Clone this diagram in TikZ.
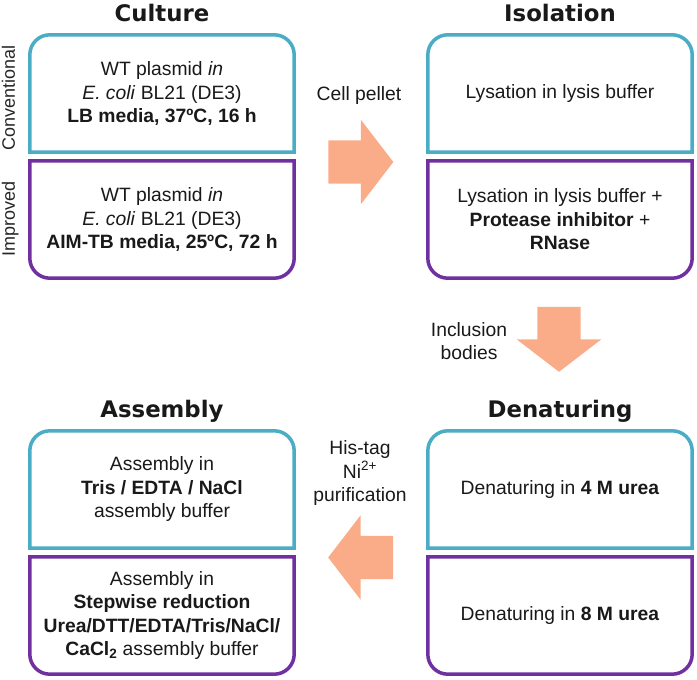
\documentclass[tikz,border=0pt]{standalone}
\usepackage{fontspec}
\setmainfont{Liberation Sans}
\newfontfamily\titlefont{DejaVu Sans}
\usepackage{tikz}
\usetikzlibrary{shapes.arrows}
\definecolor{convcyan}{RGB}{75,172,198}
\definecolor{imprpurple}{RGB}{112,48,160}
\definecolor{peach}{RGB}{250,172,136}
\tikzstyle{box} = [rectangle, minimum width=264pt, minimum height=117pt, text centered, align=center, text=black!90, font=\fontsize{19.3}{23.5}\selectfont]
\tikzstyle{convline} = [draw=convcyan, line width=3.5pt]
\tikzstyle{imprline} = [draw=imprpurple, line width=3.5pt]
\tikzstyle{title} = [text=black!90, font=\titlefont\fontsize{22.8}{27}\selectfont\bfseries, text height=17pt, text depth=5pt]
\tikzstyle{side} = [rotate=90, text=black!85, font=\fontsize{18}{22}\selectfont, text height=13pt, text depth=4pt]
\tikzstyle{note} = [align=center, text=black!90, font=\fontsize{19.3}{23.5}\selectfont]
\tikzstyle{fatarrow} = [single arrow, fill=peach, inner xsep=0pt, inner ysep=21.5pt, minimum width=84pt, minimum height=65pt, single arrow head extend=20.5pt, single arrow tip angle=105]
\tikzstyle{fatarrowdown} = [fatarrow, shape border rotate=270, inner xsep=21.5pt, inner ysep=0pt]

\begin{document}
\begin{tikzpicture}[node distance=126pt, x=1pt, y=1pt]
\useasboundingbox (0,0) rectangle (697,-680);
\node (cultconv) [box] at (162,-93.5) {WT plasmid \textit{in}\\\textit{E. coli} BL21 (DE3)\\\textbf{LB media, 37ºC, 16 h}};
\node (cultimpr) [box, below of=cultconv] {WT plasmid \textit{in}\\\textit{E. coli} BL21 (DE3)\\\textbf{AIM-TB media, 25ºC, 72 h}};
\node (isoconv) [box, right of=cultconv, xshift=272pt] {Lysation in lysis buffer};
\node (isoimpr) [box, below of=isoconv] {Lysation in lysis buffer +\\\textbf{Protease inhibitor} +\\\textbf{RNase}};
\node (denconv) [box, below of=isoimpr, yshift=-144pt] {Denaturing in \textbf{4 M urea}};
\node (denimpr) [box, below of=denconv] {Denaturing in \textbf{8 M urea}};
\node (asmconv) [box, left of=denconv, xshift=-272pt] {Assembly in\\\textbf{Tris / EDTA / NaCl}\\assembly buffer};
\node (asmimpr) [box, below of=asmconv] {Assembly in\\\textbf{Stepwise reduction}\\\textbf{Urea/DTT/EDTA/Tris/NaCl/}\\\textbf{CaCl\textsubscript{2}} assembly buffer};
\node (culture) [title, above of=cultconv, yshift=-47.5pt] {Culture};
\node (isolation) [title, above of=isoconv, yshift=-47.5pt] {Isolation};
\node (denaturing) [title, above of=denconv, yshift=-47.5pt] {Denaturing};
\node (assembly) [title, above of=asmconv, yshift=-47.5pt] {Assembly};
\node (conventional) [side] at (10.5,-98) {Conventional};
\node (improved) [side] at (10.5,-218.5) {Improved};
\node (pellet) [fatarrow] at (352.5,-162) {};
\node (bodies) [fatarrowdown] at (559,-331) {};
\node (purif) [fatarrow, shape border rotate=180] at (369,-557.5) {};
\node (pelletlabel) [note, above of=pellet, yshift=-60pt, xshift=6.5pt] {Cell pellet};
\node (bodieslabel) [note, left of=bodies, xshift=36pt, yshift=-10pt] {Inclusion\\bodies};
\node (puriflabel) [note, above of=purif, yshift=-42pt, xshift=-9pt] {His-tag\\Ni\textsuperscript{2+}\\purification};
\draw [convline] (cultconv.south west) -- ([yshift=-20pt]cultconv.north west) arc (180:90:20pt) -- ([xshift=-20pt]cultconv.north east) arc (90:0:20pt) -- (cultconv.south east) -- cycle;
\draw [convline] (isoconv.south west) -- ([yshift=-20pt]isoconv.north west) arc (180:90:20pt) -- ([xshift=-20pt]isoconv.north east) arc (90:0:20pt) -- (isoconv.south east) -- cycle;
\draw [convline] (denconv.south west) -- ([yshift=-20pt]denconv.north west) arc (180:90:20pt) -- ([xshift=-20pt]denconv.north east) arc (90:0:20pt) -- (denconv.south east) -- cycle;
\draw [convline] (asmconv.south west) -- ([yshift=-20pt]asmconv.north west) arc (180:90:20pt) -- ([xshift=-20pt]asmconv.north east) arc (90:0:20pt) -- (asmconv.south east) -- cycle;
\draw [imprline] (cultimpr.north west) -- (cultimpr.north east) -- ([yshift=20pt]cultimpr.south east) arc (0:-90:20pt) -- ([xshift=20pt]cultimpr.south west) arc (-90:-180:20pt) -- cycle;
\draw [imprline] (isoimpr.north west) -- (isoimpr.north east) -- ([yshift=20pt]isoimpr.south east) arc (0:-90:20pt) -- ([xshift=20pt]isoimpr.south west) arc (-90:-180:20pt) -- cycle;
\draw [imprline] (denimpr.north west) -- (denimpr.north east) -- ([yshift=20pt]denimpr.south east) arc (0:-90:20pt) -- ([xshift=20pt]denimpr.south west) arc (-90:-180:20pt) -- cycle;
\draw [imprline] (asmimpr.north west) -- (asmimpr.north east) -- ([yshift=20pt]asmimpr.south east) arc (0:-90:20pt) -- ([xshift=20pt]asmimpr.south west) arc (-90:-180:20pt) -- cycle;
\end{tikzpicture}
\end{document}
